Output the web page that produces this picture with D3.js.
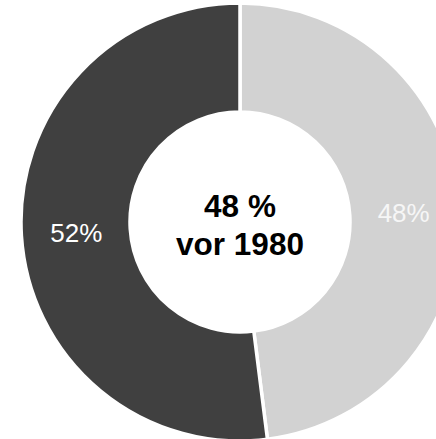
<!DOCTYPE html>
<html>
<head>
  <meta charset="utf-8">
  <script src="https://d3js.org/d3.v7.min.js"></script>
  <style>
    body { margin: 0; background: #fff; }
    svg { display: block; }
  </style>
</head>
<body>
<script>
  // slices go clockwise from 12 o'clock
  var categories = ["vor 1980", "ab 1980"];
  var values = [48, 52];
  var colors = ["#d2d2d2", "#404040"];
  var labelColors = ["#f6f6f6", "#ffffff"];
  var centerLines = ["48 %", "vor 1980"];

  var width = 436, height = 439;
  var cx = 240, cy = 222;
  var outerR = 219, innerR = 110;

  var svg = d3.select("body")
    .append("svg")
      .attr("width", width)
      .attr("height", height);

  var g = svg.append("g")
    .attr("transform", "translate(" + cx + "," + cy + ")");

  var pie = d3.pie().sort(null).value(function (d) { return d; });
  var arcs = pie(values);

  var arc = d3.arc().innerRadius(innerR).outerRadius(outerR);
  var labelArc = d3.arc().innerRadius(innerR).outerRadius(outerR - 1);

  g.selectAll("path")
    .data(arcs)
    .enter()
    .append("path")
      .attr("d", arc)
      .attr("fill", function (d, i) { return colors[i]; })
      .attr("stroke", "#fff")
      .attr("stroke-width", 3.5);

  // percentage labels at the centre of each ring segment
  g.selectAll("text.pct")
    .data(arcs)
    .enter()
    .append("text")
      .attr("class", "pct")
      .attr("transform", function (d) {
        var c = labelArc.centroid(d);
        return "translate(" + c[0] + "," + (c[1] + 10) + ")";
      })
      .attr("text-anchor", "middle")
      .style("font-family", "'Liberation Sans', Arial, sans-serif")
      .style("font-size", "26px")
      .attr("fill", function (d, i) { return labelColors[i]; })
      .text(function (d, i) { return values[i] + "%"; });

  // centre caption
  g.selectAll("text.center")
    .data(centerLines)
    .enter()
    .append("text")
      .attr("class", "center")
      .attr("x", 0)
      .attr("y", function (d, i) { return -5 + i * 38; })
      .attr("text-anchor", "middle")
      .style("font-family", "'Liberation Sans', Arial, sans-serif")
      .style("font-size", "31.5px")
      .style("font-weight", "bold")
      .attr("fill", "#000")
      .text(function (d) { return d; });
</script>
</body>
</html>
